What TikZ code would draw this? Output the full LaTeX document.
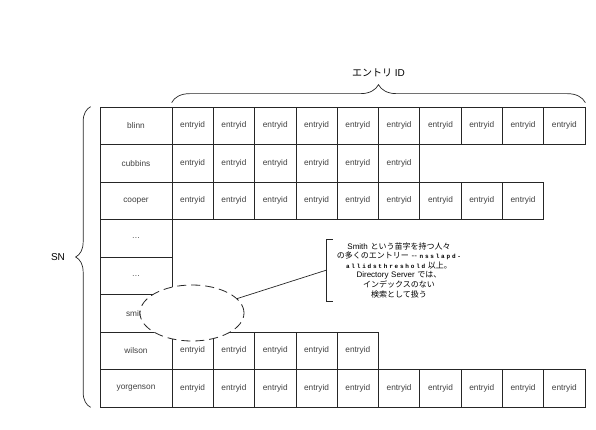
\documentclass[tikz,border=0pt]{standalone}
\usepackage{fontspec}
\setmainfont{Liberation Sans}
\newfontfamily\jp{Noto Sans CJK JP}
\newfontfamily\codefont[LetterSpace=30]{Liberation Mono}
\usetikzlibrary{positioning,decorations.pathreplacing,shapes.geometric}

\begin{document}
\begin{tikzpicture}[x=1pt,y=-1pt,
  cell/.style={draw=black!85,line width=.7pt,minimum width=41.3pt,minimum height=37.5pt,inner sep=0pt,text=black!75,font=\fontsize{8.3}{9}\selectfont},
  namecell/.style={cell,minimum width=72pt},
  oval/.style={draw=black!85,ellipse,line width=.8pt,dash pattern=on 9pt off 5pt,fill=white,minimum width=104pt,minimum height=56pt},
  memo/.style={align=center,text width=136pt,inner xsep=4pt,inner ysep=3pt,font=\fontsize{8}{9.6}\selectfont},
  curly/.style={decorate,line width=.7pt,draw=black!85}]
\useasboundingbox (0,0) rectangle (596,430);
\foreach \nm/\n [count=\r] in {blinn/10,cubbins/6,cooper/9,\ldots/0,\ldots/0,smith/0,wilson/5,yorgenson/10} {
  \node[namecell] (r\r) at (136,{88.25+37.5*\r}) {\nm};
  \ifnum\n>0
    \foreach \c in {1,...,\n}
      \node[cell] (e\r-\c) at ({151.35+41.3*\c},{88.25+37.5*\r}) {entryid};
  \fi
}
\node[font=\fontsize{10}{12}\selectfont] (hdr) at (378.5,73) {{\jp エントリ} ID};
\node[font=\fontsize{10}{12}\selectfont] (sn) at (58,257) {SN};
\draw[curly,decoration={brace,amplitude=18pt}] ([yshift=4pt]e1-1.north west) -- ([yshift=4pt]e1-10.north east);
\draw[curly,decoration={brace,amplitude=15pt}] ([xshift=-9pt]r8.south west) -- ([xshift=-9pt]r1.north west);
\node[oval] (hole) at (192,313) {};
\node[memo] (note) at (399,270) {Smith {\jp という苗字を持つ人々}\\
{\jp の多くのエントリー} -{}- {\codefont\bfseries\fontsize{6}{9.6}\selectfont nsslapd-}\\
{\codefont\bfseries\fontsize{6}{9.6}\selectfont allidsthreshold} {\jp 以上。}\\
Directory Server {\jp では、}\\
{\jp インデックスのない}\\
{\jp 検索として扱う}};
\draw[line width=.7pt,draw=black!85] ([xshift=6pt]note.north west) -- (note.north west) -- (note.south west) -- ([xshift=6pt]note.south west);
\draw[line width=.7pt,draw=black!85] (hole) -- (note.west);
\end{tikzpicture}
\end{document}
